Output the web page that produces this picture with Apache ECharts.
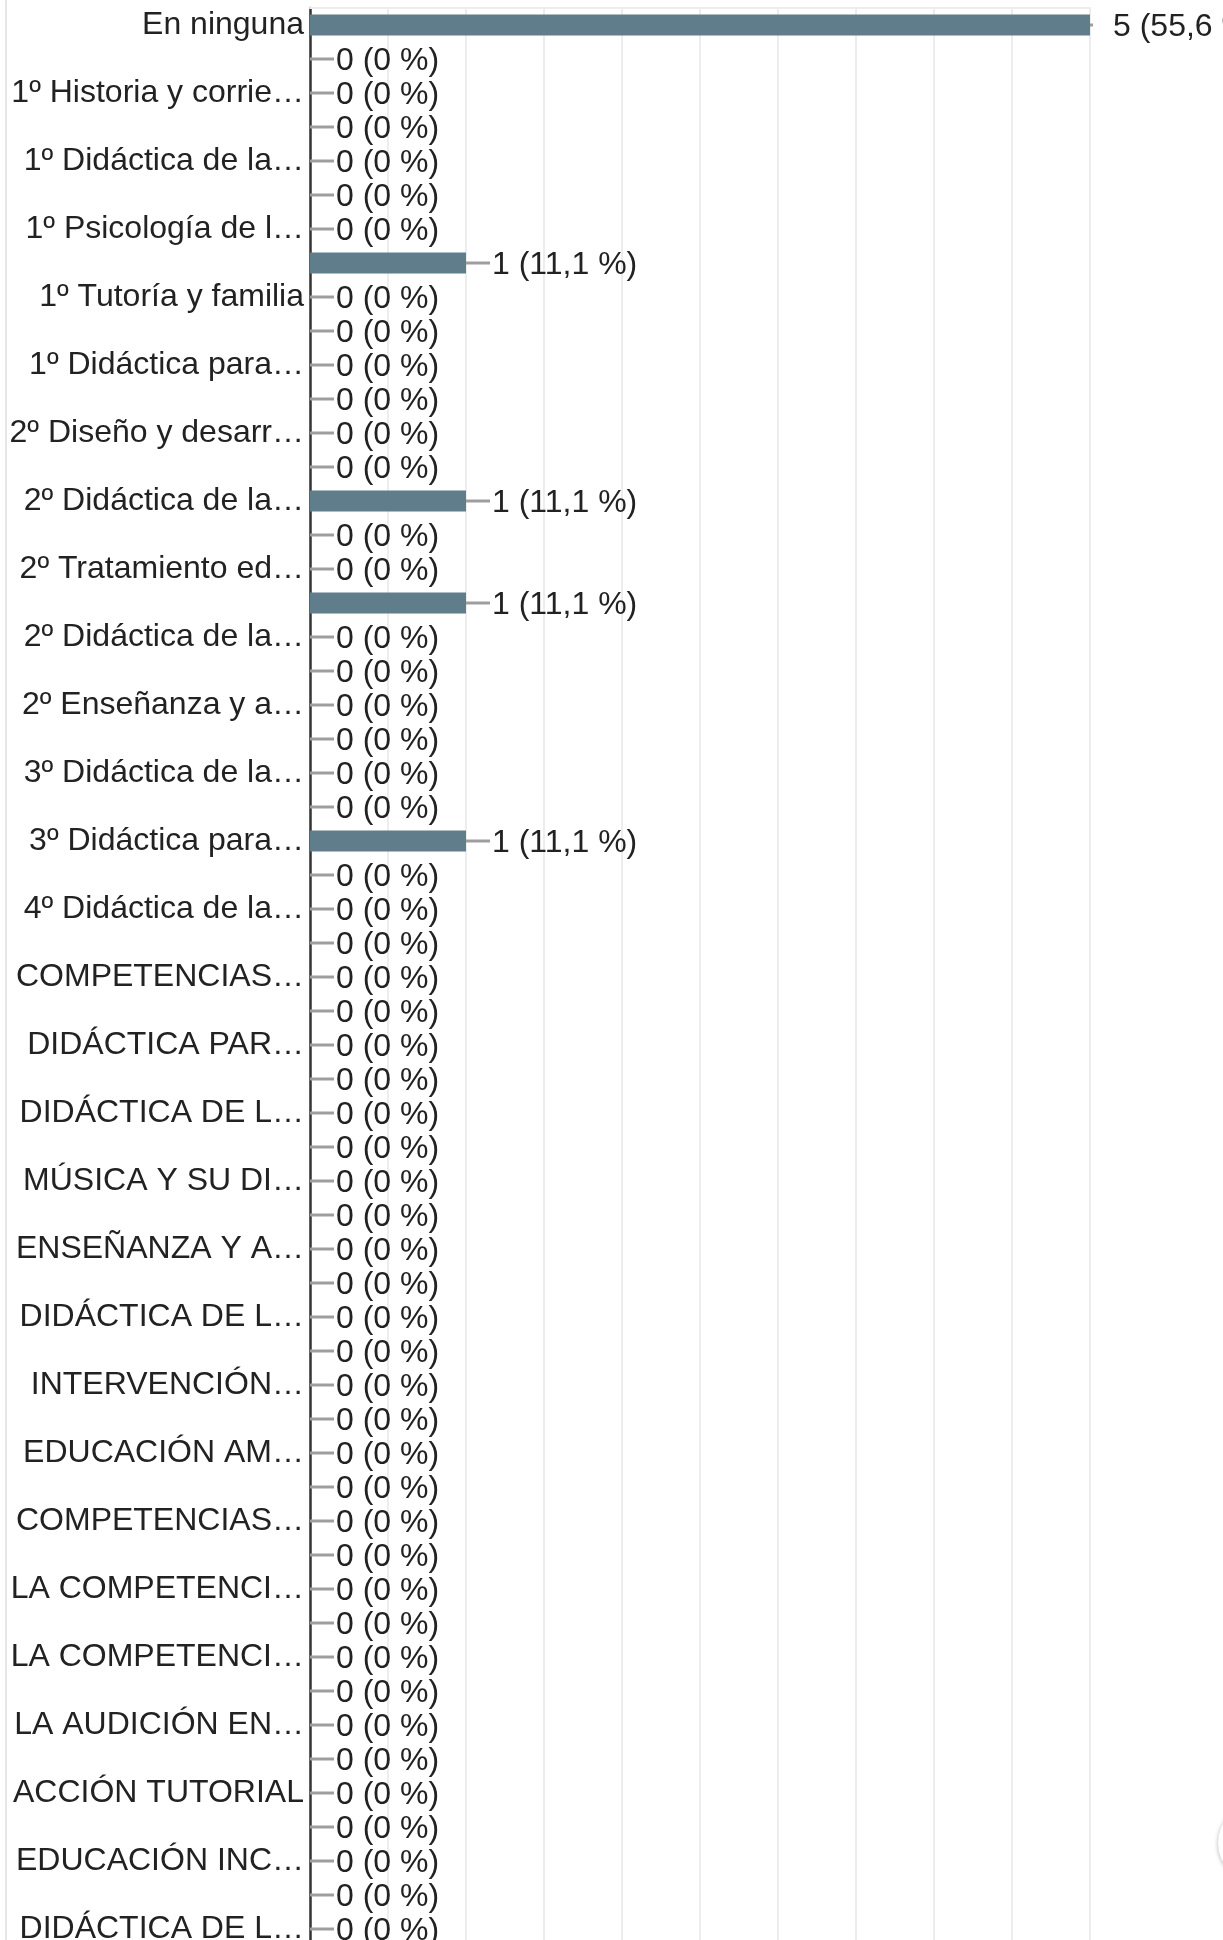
<!DOCTYPE html>
<html>
<head>
<meta charset="utf-8">
<script src="https://cdn.jsdelivr.net/npm/echarts@6/dist/echarts.min.js"></script>
<style>
  html, body { margin: 0; padding: 0; overflow: hidden; background: #fff; }
  #chart { width: 1223px; height: 2000px; }
  .edge { position: absolute; left: 5px; top: 0; width: 2px; height: 2000px; background: #e6e6e6; }
  .fab { position: absolute; left: 1218px; top: 1803px; width: 80px; height: 80px; border-radius: 50%;
         background: #fff; box-shadow: 0 1px 4px rgba(0,0,0,0.3); }
</style>
</head>
<body>
<div id="chart"></div>
<div class="edge"></div>
<div class="fab"></div>
<script>
// categorias (las filas sin rotulo visible quedan vacias)
var categories = [
  'En ninguna', '',
  '1º Historia y corrie…', '',
  '1º Didáctica de la…', '',
  '1º Psicología de l…', '',
  '1º Tutoría y familia', '',
  '1º Didáctica para…', '',
  '2º Diseño y desarr…', '',
  '2º Didáctica de la…', '',
  '2º Tratamiento ed…', '',
  '2º Didáctica de la…', '',
  '2º Enseñanza y a…', '',
  '3º Didáctica de la…', '',
  '3º Didáctica para…', '',
  '4º Didáctica de la…', '',
  'COMPETENCIAS…', '',
  'DIDÁCTICA PAR…', '',
  'DIDÁCTICA DE L…', '',
  'MÚSICA Y SU DI…', '',
  'ENSEÑANZA Y A…', '',
  'DIDÁCTICA DE L…', '',
  'INTERVENCIÓN…', '',
  'EDUCACIÓN AM…', '',
  'COMPETENCIAS…', '',
  'LA COMPETENCI…', '',
  'LA COMPETENCI…', '',
  'LA AUDICIÓN EN…', '',
  'ACCIÓN TUTORIAL', '',
  'EDUCACIÓN INC…', '',
  'DIDÁCTICA DE L…'
];
// respuestas por fila
var counts = [
  5, 0, 0, 0, 0, 0, 0, 1, 0, 0,
  0, 0, 0, 0, 1, 0, 0, 1, 0, 0,
  0, 0, 0, 0, 1, 0, 0, 0, 0, 0,
  0, 0, 0, 0, 0, 0, 0, 0, 0, 0,
  0, 0, 0, 0, 0, 0, 0, 0, 0, 0,
  0, 0, 0, 0, 0, 0, 0
];
var total = 9;
var axisMax = 5;

var font = '"Liberation Sans", Arial, sans-serif';
var bandHeight = 34;
var gridTop = 8;
var chartHeight = 2000;

var chart = echarts.init(document.getElementById('chart'));

var option = {
  animation: false,
  grid: {
    left: 310,
    right: 133,
    top: gridTop,
    bottom: chartHeight - gridTop - categories.length * bandHeight,
    outerBoundsMode: 'none'
  },
  xAxis: {
    type: 'value',
    position: 'top',
    min: 0,
    max: axisMax,
    interval: 0.5,
    axisLine: { show: true, lineStyle: { color: '#ededed', width: 2 } },
    axisTick: { show: false },
    axisLabel: { show: false },
    splitLine: { show: true, lineStyle: { color: '#ededed', width: 2 } }
  },
  yAxis: {
    type: 'category',
    inverse: true,
    data: categories,
    axisLine: { show: true, onZero: false, lineStyle: { color: '#333', width: 2.5 } },
    axisTick: { show: false },
    axisLabel: {
      interval: 1,
      margin: 6,
      fontSize: 32,
      fontFamily: font,
      color: '#222',
      padding: [5, 0, 0, 0],
      width: 300,
      overflow: 'truncate',
      ellipsis: '…'
    }
  },
  series: [{
    type: 'bar',
    data: counts,
    barWidth: 21,
    itemStyle: { color: '#607d8b' },
    label: {
      show: true,
      position: 'right',
      distance: 0,
      formatter: function (p) {
        var pct = p.value === 0 ? '0' : (p.value / total * 100).toFixed(1).replace('.', ',');
        var txt = p.value + ' (' + pct + ' %)';
        var lead = p.value >= axisMax ? '{tip| }{gap| }' : '{stem| }';
        return lead + '{txt|' + txt + '}';
      },
      rich: {
        stem: { width: 24, height: 3, backgroundColor: '#9e9e9e' },
        tip: { width: 3, height: 3, backgroundColor: '#9e9e9e' },
        gap: { width: 18, height: 3 },
        txt: { fontSize: 32, fontFamily: font, color: '#222', padding: [4, 0, 0, 2] }
      }
    }
  }]
};

chart.setOption(option);
</script>
</body>
</html>
